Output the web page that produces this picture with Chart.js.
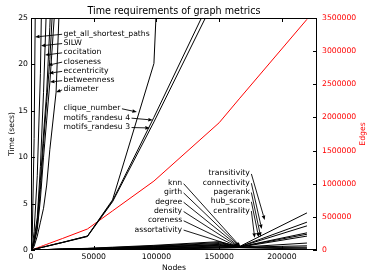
<!DOCTYPE html>
<html><head><meta charset="utf-8">
<script src="https://cdn.jsdelivr.net/npm/chart.js@4"></script>
<style>html,body{margin:0;padding:0;background:#fff}#wrap{width:374px;height:280px}</style>
</head><body><div id="wrap"><canvas id="c" width="374" height="280"></canvas></div>
<script>
const nodes = [0, 1000, 2500, 5000, 7500, 10000, 12500, 15000, 20000, 25000, 45000, 65000, 98000, 150000, 166000, 220000];
const edges = [0, 5000, 15000, 32000, 50000, 68000, 85000, 103000, 138000, 173000, 317000, 590000, 1040000, 1920000, 2280000, 3480000];

const getAllShortestPaths = [0, 1.5, 12, 50, 120, 220, 350, 500, 900, 1400, 4000, 8000, 18000, 40000, 48000, 80000];
const silw         = [0, 0.3, 2, 8, 19, 40, 70, 110, 200, 320, 1000, 2000, 5000, 12000, 15000, 26000];
const cocitation   = [0, 0.2, 1.2, 3.5, 9, 17, 27, 40, 70, 110, 400, 800, 2000, 5000, 6000, 10000];
const closeness    = [0, 0.15, 1, 3, 7.5, 12.5, 17, 24, 42, 65, 210, 440, 1000, 2300, 2800, 5000];
const eccentricity = [0, 0.12, 0.8, 2.5, 6.5, 11.5, 16, 20.5, 33, 52, 170, 350, 800, 1900, 2300, 4000];
const betweenness  = [0, 0.1, 0.7, 2.2, 5.5, 10, 14, 18, 28, 44, 140, 300, 700, 1600, 1900, 3300];
const diameter     = [0, 0.05, 0.4, 1.5, 3, 4.5, 7, 10.8, 17, 35, 110, 220, 500, 1200, 1400, 2500];
const cliqueNumber = [0, 0.03, 0.08, 0.17, 0.25, 0.33, 0.42, 0.5, 0.67, 0.83, 1.5, 5.4, 20.1, 180, 230, 400];
const motifs4      = [0, 0.03, 0.08, 0.16, 0.24, 0.32, 0.4, 0.48, 0.64, 0.8, 1.5, 5.3, 14.3, 29, 33, 48];
const motifs3      = [0, 0.03, 0.08, 0.16, 0.24, 0.32, 0.4, 0.48, 0.64, 0.8, 1.45, 5.2, 13.8, 28, 32, 46];
const transitivity = [0, 0.005, 0.01, 0.02, 0.03, 0.04, 0.05, 0.06, 0.08, 0.1, 0.18, 0.3, 0.5, 0.9, 0.36, 4.0];
const connectivity = [0, 0.005, 0.01, 0.02, 0.03, 0.04, 0.05, 0.06, 0.08, 0.1, 0.16, 0.26, 0.44, 0.8, 0.34, 3.0];
const knn          = [0, 0.004, 0.01, 0.02, 0.03, 0.04, 0.05, 0.06, 0.08, 0.1, 0.14, 0.22, 0.4, 0.7, 0.34, 2.6];
const pagerank     = [0, 0.004, 0.01, 0.02, 0.03, 0.035, 0.04, 0.05, 0.07, 0.09, 0.13, 0.2, 0.35, 0.6, 0.33, 1.85];
const hubScore     = [0, 0.004, 0.01, 0.02, 0.025, 0.03, 0.04, 0.05, 0.065, 0.08, 0.12, 0.18, 0.32, 0.55, 0.32, 1.7];
const centrality   = [0, 0.003, 0.008, 0.015, 0.02, 0.03, 0.035, 0.04, 0.06, 0.07, 0.11, 0.16, 0.3, 0.5, 0.3, 1.5];
const degree       = [0, 0.003, 0.007, 0.012, 0.018, 0.025, 0.03, 0.035, 0.05, 0.06, 0.09, 0.14, 0.25, 0.42, 0.3, 0.75];
const girth        = [0, 0.002, 0.005, 0.01, 0.015, 0.02, 0.025, 0.03, 0.04, 0.05, 0.08, 0.12, 0.2, 0.35, 0.3, 0.45];
const density      = [0, 0.002, 0.004, 0.008, 0.012, 0.016, 0.02, 0.024, 0.032, 0.04, 0.06, 0.1, 0.16, 0.3, 0.28, 0.3];
const coreness     = [0, 0.001, 0.003, 0.006, 0.01, 0.013, 0.016, 0.02, 0.026, 0.032, 0.05, 0.08, 0.13, 0.24, 0.27, 0.2];
const assortativity= [0, 0.001, 0.002, 0.005, 0.008, 0.01, 0.012, 0.015, 0.02, 0.025, 0.04, 0.06, 0.1, 0.2, 0.25, 0.1];

const timeSeries = [getAllShortestPaths, silw, cocitation, closeness, eccentricity, betweenness, diameter,
  cliqueNumber, motifs4, motifs3, transitivity, connectivity, knn, pagerank, hubScore, centrality,
  degree, girth, density, coreness, assortativity];

const xTicks = [0, 50000, 100000, 150000, 200000];
const yTicks = [0, 5, 10, 15, 20, 25];
const y2Ticks = [0, 500000, 1000000, 1500000, 2000000, 2500000, 3000000, 3500000];

// annotations: label, text anchor (data), alignment, arrow target (data)
const annLabels = ['get_all_shortest_paths','SILW','cocitation','closeness','eccentricity','betweenness','diameter',
  'clique_number','motifs_randesu 4','motifs_randesu 3',
  'knn','girth','degree','density','coreness','assortativity',
  'transitivity','connectivity','pagerank','hub_score','centrality'];
const annTextX = [26000,26000,26000,26000,26000,26000,26000, 26000,26000,26000,
  120500,120500,120500,120500,120500,120500, 174500,174500,174500,174500,174500];
const annTextY = [23.3,22.3,21.3,20.3,19.3,18.3,17.3, 15.27,14.26,13.25,
  7.2,6.2,5.2,4.2,3.2,2.2, 8.25,7.25,6.25,5.25,4.25];
const annAlign = ['left','left','left','left','left','left','left','left','left','left',
  'right','right','right','right','right','right','right','right','right','right','right'];
const annTargetX = [3200,8000,11150,13500,14300,15100,19900, 84400,97100,94700,
  167000,166500,166000,165500,165000,164500, 186300,183900,183100,181500,178300];
const annTargetY = [22.95,22.0,21.0,19.9,19.05,18.1,17.0, 14.87,14.0,13.15,
  0.35,0.35,0.33,0.33,0.32,0.32, 3.23,2.26,1.43,1.37,1.33];

const FONT = 'DejaVu Sans';
const tickFont = {family: FONT, size: 7.7};

const datasets = timeSeries.map(s => ({
  data: nodes.map((n, i) => ({x: n, y: s[i]})),
  borderColor: '#000', borderWidth: 1, pointRadius: 0, tension: 0, yAxisID: 'y', fill: false
}));
datasets.push({
  data: nodes.map((n, i) => ({x: n, y: edges[i]})),
  borderColor: '#ff0000', borderWidth: 1, pointRadius: 0, tension: 0, yAxisID: 'y2', fill: false
});

const decor = {
  id: 'decor',
  afterDraw(chart) {
    const ctx = chart.ctx, a = chart.chartArea;
    const sx = chart.scales.x, sy = chart.scales.y, sy2 = chart.scales.y2;
    ctx.save();
    ctx.strokeStyle = '#000'; ctx.lineWidth = 1;
    ctx.strokeRect(Math.round(a.left) + 0.5, Math.round(a.top) + 0.5, Math.round(a.right - a.left) - 1, Math.round(a.bottom - a.top) - 1);
    const TL = 4;
    ctx.beginPath();
    xTicks.forEach(v => {
      const px = Math.round(sx.getPixelForValue(v)) + 0.5;
      ctx.moveTo(px, a.bottom); ctx.lineTo(px, a.bottom - TL);
      ctx.moveTo(px, a.top); ctx.lineTo(px, a.top + TL);
    });
    yTicks.forEach(v => {
      const py = Math.round(sy.getPixelForValue(v)) + 0.5;
      ctx.moveTo(a.left, py); ctx.lineTo(a.left + TL, py);
    });
    y2Ticks.forEach(v => {
      const py = Math.round(sy2.getPixelForValue(v)) + 0.5;
      ctx.moveTo(a.right, py); ctx.lineTo(a.right - TL, py);
    });
    ctx.stroke();
    ctx.fillStyle = '#000';
    ctx.font = '9.6px "' + FONT + '"';
    ctx.textAlign = 'center'; ctx.textBaseline = 'middle';
    ctx.fillText('Time requirements of graph metrics', (a.left + a.right) / 2, 11);
    ctx.font = '7.7px "' + FONT + '"';
    ctx.fillText('Nodes', (a.left + a.right) / 2, 268);
    ctx.save();
    ctx.translate(12, (a.top + a.bottom) / 2); ctx.rotate(-Math.PI / 2);
    ctx.fillText('Time (secs)', 0, 0);
    ctx.restore();
    ctx.save();
    ctx.fillStyle = '#ff0000';
    ctx.translate(363, (a.top + a.bottom) / 2); ctx.rotate(-Math.PI / 2);
    ctx.fillText('Edges', 0, 0);
    ctx.restore();
    ctx.font = '7.7px "' + FONT + '"';
    ctx.textBaseline = 'middle';
    annLabels.forEach((lab, i) => {
      const tx = sx.getPixelForValue(annTextX[i]);
      const ty = sy.getPixelForValue(annTextY[i]);
      const w = ctx.measureText(lab).width;
      const left = annAlign[i] === 'left' ? tx : tx - w;
      const right = left + w;
      ctx.textAlign = 'left';
      ctx.fillStyle = '#000';
      ctx.fillText(lab, left, ty);
      const gx = sx.getPixelForValue(annTargetX[i]);
      const gy = sy.getPixelForValue(annTargetY[i]);
      let x0 = gx < left ? left - 1.5 : (gx > right ? right + 1.5 : (left + right) / 2);
      let y0 = ty + (gx >= left && gx <= right ? (gy > ty ? 4 : -4) : 0.5);
      const ang = Math.atan2(gy - y0, gx - x0);
      const HL = 4.5, HW = 1.8;
      const bx = gx - HL * Math.cos(ang), by = gy - HL * Math.sin(ang);
      ctx.strokeStyle = '#000'; ctx.lineWidth = 0.9;
      ctx.beginPath(); ctx.moveTo(x0, y0); ctx.lineTo(bx, by); ctx.stroke();
      ctx.beginPath();
      ctx.moveTo(gx, gy);
      ctx.lineTo(bx + HW * Math.sin(ang), by - HW * Math.cos(ang));
      ctx.lineTo(bx - HW * Math.sin(ang), by + HW * Math.cos(ang));
      ctx.closePath(); ctx.fill();
    });
    ctx.restore();
  }
};

new Chart(document.getElementById('c'), {
  type: 'line',
  data: {datasets},
  options: {
    responsive: false, animation: false, devicePixelRatio: 1,
    layout: {padding: {top: 18, left: 0, right: 0, bottom: 0}},
    plugins: {legend: {display: false}, tooltip: {enabled: false}, title: {display: false}},
    scales: {
      x: {
        type: 'linear', min: 0, max: 228000,
        afterBuildTicks: s => { s.ticks = xTicks.map(v => ({value: v})); },
        afterFit: s => { s.height = 30; },
        ticks: {font: tickFont, color: '#000', padding: 2, maxRotation: 0, autoSkip: false, callback: v => String(v)},
        grid: {display: false, drawTicks: false}, border: {display: false}
      },
      y: {
        type: 'linear', position: 'left', min: 0, max: 25,
        afterBuildTicks: s => { s.ticks = yTicks.map(v => ({value: v})); },
        afterFit: s => { s.width = 31; },
        ticks: {font: tickFont, color: '#000', padding: 3, callback: v => String(v)},
        grid: {display: false, drawTicks: false}, border: {display: false}
      },
      y2: {
        type: 'linear', position: 'right', min: 0, max: 3500000,
        afterBuildTicks: s => { s.ticks = y2Ticks.map(v => ({value: v})); },
        afterFit: s => { s.width = 57; },
        ticks: {font: tickFont, color: '#ff0000', padding: 5, callback: v => String(v)},
        grid: {display: false, drawTicks: false}, border: {display: false}
      }
    }
  },
  plugins: [decor]
});
</script></body></html>
